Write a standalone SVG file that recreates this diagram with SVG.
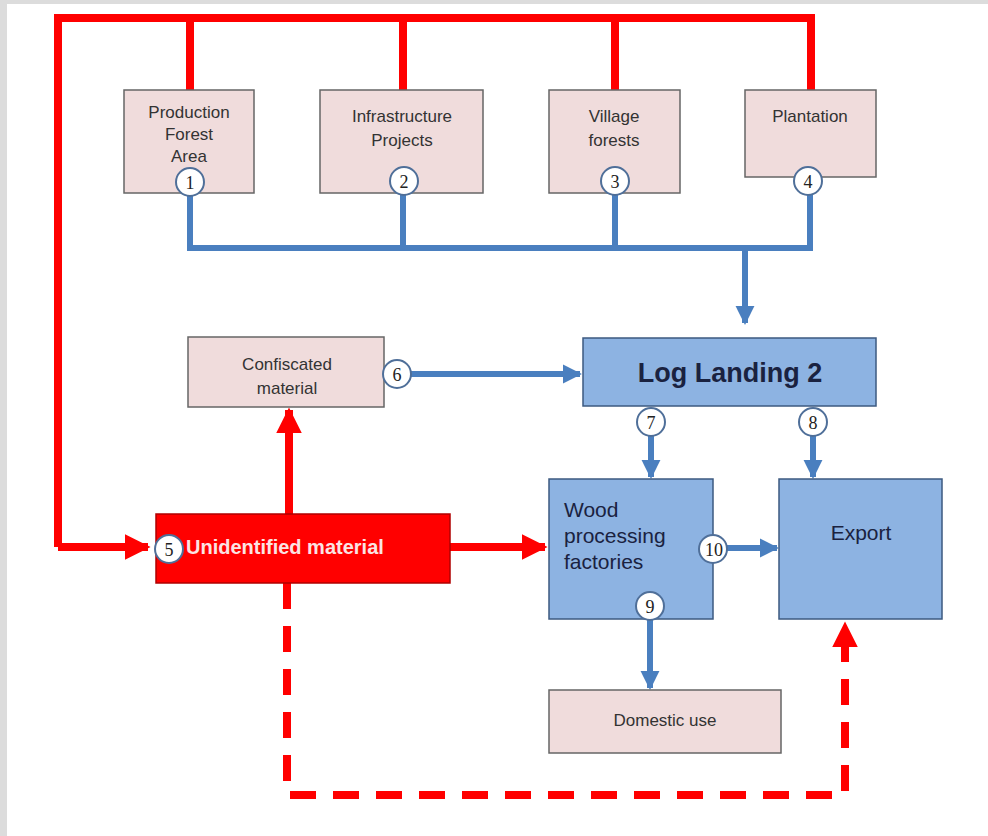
<svg xmlns="http://www.w3.org/2000/svg" width="988" height="836" viewBox="0 0 988 836">
<style>
.pink{fill:#f0dcdc;stroke:#666;stroke-width:1.5}
.blue{fill:#8db3e2;stroke:#3d5a80;stroke-width:1.5}
.t{font-family:"Liberation Sans",Arial,sans-serif;font-size:17px;fill:#333}
.tb{font-family:"Liberation Sans",Arial,sans-serif;fill:#1a2240}
.rl{fill:none;stroke:#ff0000;stroke-width:8}
.bl{fill:none;stroke:#4a7fbf;stroke-width:6}
.circ{fill:#fff;stroke:#4f6f99;stroke-width:2}
.num{font-family:"Liberation Serif","Times New Roman",serif;font-size:18px;fill:#222;text-anchor:middle}
</style>
<defs>
<marker id="ab" viewBox="0 0 10 10" refX="9" refY="5" markerWidth="3.2" markerHeight="3.2" orient="auto" markerUnits="strokeWidth"><path d="M0,0 L10,5 L0,10 z" fill="#4a7fbf"/></marker>
<marker id="ar" viewBox="0 0 10 10" refX="9" refY="5" markerWidth="3.2" markerHeight="3.2" orient="auto" markerUnits="strokeWidth"><path d="M0,0 L10,5 L0,10 z" fill="#ff0000"/></marker>
</defs>
<rect x="0" y="0" width="988" height="836" fill="#fff"/>
<rect x="0" y="0" width="988" height="4" fill="#dcdcdc"/>
<rect x="0" y="0" width="7" height="836" fill="#dcdcdc"/>

<g id="connectors">
<path class="rl" d="M58,547 V18 H813"/>
<path class="rl" d="M190,18 V90 M403,18 V90 M615,18 V90 M811,14 V90"/>
<path class="rl" d="M58,547 H148" marker-end="url(#ar)"/>
<path class="rl" d="M450,547 H545" marker-end="url(#ar)"/>
<path class="rl" d="M289,514 V410" marker-end="url(#ar)"/>
<path class="rl" d="M287,583 V795 H845 V624" stroke-dasharray="26,17" marker-end="url(#ar)"/>
<path class="bl" d="M190,195 V248 H810 V195"/>
<path class="bl" d="M403,195 V248 M615,195 V248"/>
<path class="bl" d="M745,248 V323" marker-end="url(#ab)"/>
<path class="bl" d="M411,374 H580" marker-end="url(#ab)"/>
<path class="bl" d="M651,436 V477" marker-end="url(#ab)"/>
<path class="bl" d="M813,436 V477" marker-end="url(#ab)"/>
<path class="bl" d="M727,548 H777" marker-end="url(#ab)"/>
<path class="bl" d="M650,620 V688" marker-end="url(#ab)"/>
</g>

<g id="production-forest">
<rect class="pink" x="124" y="90" width="130" height="103"/>
<text class="t" text-anchor="middle"><tspan x="189" y="118">Production</tspan><tspan x="189" y="140">Forest</tspan><tspan x="189" y="162">Area</tspan></text>
</g>
<g id="infrastructure">
<rect class="pink" x="320" y="90" width="163" height="103"/>
<text class="t" text-anchor="middle"><tspan x="402" y="122">Infrastructure</tspan><tspan x="402" y="146">Projects</tspan></text>
</g>
<g id="village">
<rect class="pink" x="549" y="90" width="131" height="103"/>
<text class="t" text-anchor="middle"><tspan x="614" y="122">Village</tspan><tspan x="614" y="146">forests</tspan></text>
</g>
<g id="plantation">
<rect class="pink" x="745" y="90" width="131" height="87"/>
<text class="t" text-anchor="middle" x="810" y="122">Plantation</text>
</g>
<g id="confiscated">
<rect class="pink" x="188" y="337" width="196" height="70"/>
<text class="t" text-anchor="middle"><tspan x="287" y="370">Confiscated</tspan><tspan x="287" y="394">material</tspan></text>
</g>
<g id="log-landing">
<rect class="blue" x="583" y="338" width="293" height="68"/>
<text class="tb" x="730" y="382" text-anchor="middle" font-size="27" font-weight="bold">Log Landing 2</text>
</g>
<g id="unidentified">
<rect x="156" y="514" width="294" height="69" fill="#ff0000" stroke="#b00000" stroke-width="1.5"/>
<text x="186" y="554" font-family="Liberation Sans,Arial,sans-serif" font-size="20" font-weight="bold" fill="#fbe4e4">Unidentified material</text>
</g>
<g id="wood">
<rect class="blue" x="549" y="479" width="164" height="140"/>
<text class="tb" font-size="21"><tspan x="564" y="517">Wood</tspan><tspan x="564" y="543">processing</tspan><tspan x="564" y="569">factories</tspan></text>
</g>
<g id="export">
<rect class="blue" x="779" y="479" width="163" height="140"/>
<text class="tb" x="861" y="540" text-anchor="middle" font-size="21">Export</text>
</g>
<g id="domestic">
<rect class="pink" x="549" y="690" width="232" height="63"/>
<text class="t" x="665" y="726" text-anchor="middle">Domestic use</text>
</g>

<g id="badges">
<circle class="circ" cx="190" cy="182" r="14"/><text class="num" x="190" y="189">1</text>
<circle class="circ" cx="404" cy="181" r="14"/><text class="num" x="404" y="188">2</text>
<circle class="circ" cx="615" cy="181" r="14"/><text class="num" x="615" y="188">3</text>
<circle class="circ" cx="808" cy="181" r="14"/><text class="num" x="808" y="188">4</text>
<circle class="circ" cx="169" cy="549" r="14"/><text class="num" x="169" y="556">5</text>
<circle class="circ" cx="397" cy="374" r="14"/><text class="num" x="397" y="381">6</text>
<circle class="circ" cx="651" cy="422" r="14"/><text class="num" x="651" y="429">7</text>
<circle class="circ" cx="813" cy="422" r="14"/><text class="num" x="813" y="429">8</text>
<circle class="circ" cx="650" cy="606" r="14"/><text class="num" x="650" y="613">9</text>
<circle class="circ" cx="713" cy="549" r="14"/><text class="num" x="714" y="556">10</text>
</g>
</svg>
